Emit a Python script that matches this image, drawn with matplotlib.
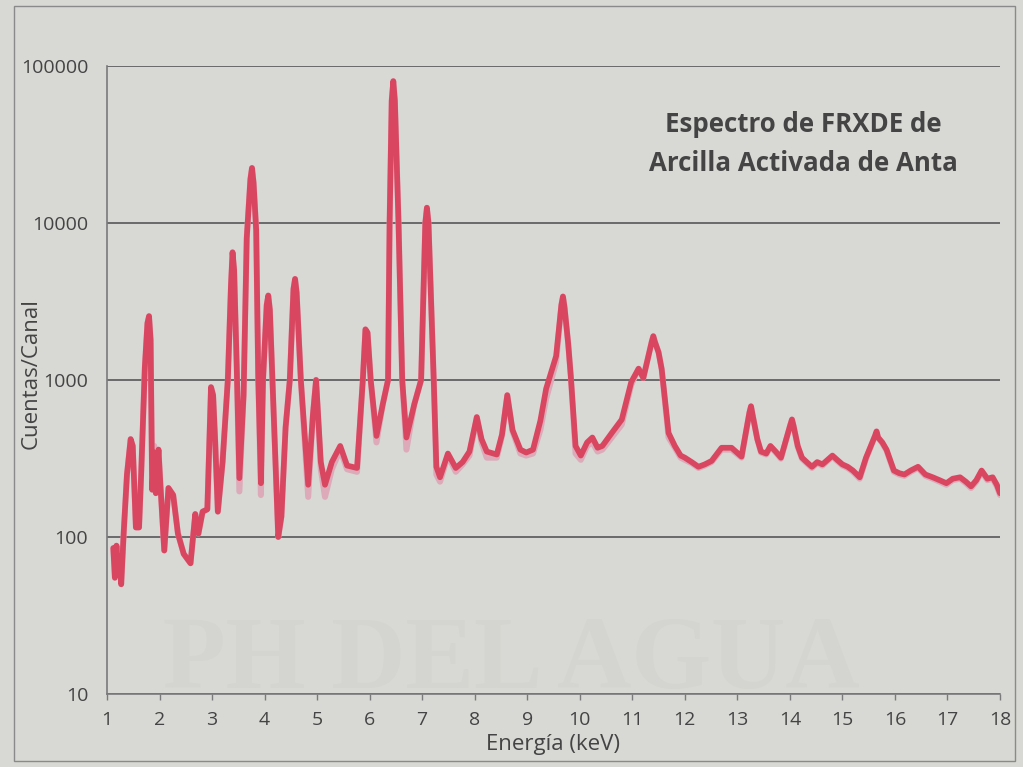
import matplotlib
matplotlib.use("Agg")
import matplotlib.pyplot as plt
from matplotlib.patches import Rectangle

# espectro FRXDE - arcilla activada de Anta
energia = [1.12, 1.15, 1.18, 1.21, 1.24, 1.27, 1.32, 1.38, 1.45, 1.49,
           1.55, 1.61, 1.65, 1.72, 1.77, 1.80, 1.83, 1.86, 1.90, 1.93, 1.98,
           2.02, 2.09, 2.17, 2.26, 2.35, 2.46, 2.59, 2.68, 2.74, 2.82,
           2.91, 2.98, 3.02, 3.06, 3.11, 3.20, 3.30, 3.36, 3.39, 3.42, 3.47, 3.52,
           3.60, 3.66, 3.73, 3.76, 3.79, 3.84, 3.88, 3.93, 3.97, 4.04, 4.07, 4.10, 4.15, 4.26,
           4.32, 4.40, 4.48, 4.55, 4.58, 4.61, 4.69, 4.83, 4.92, 4.98, 5.07, 5.15,
           5.28, 5.44, 5.57, 5.76, 5.87, 5.92, 5.96, 6.02, 6.13, 6.25, 6.35,
           6.38, 6.42, 6.45, 6.48, 6.55, 6.62, 6.70, 6.85, 6.98, 7.06, 7.09, 7.12, 7.22,
           7.27, 7.34, 7.49, 7.64, 7.77, 7.90, 8.04, 8.13, 8.23, 8.42,
           8.52, 8.62, 8.72, 8.87, 8.98, 9.11, 9.25, 9.36, 9.55, 9.65, 9.68, 9.71,
           9.78, 9.83, 9.92, 10.02, 10.14, 10.24, 10.34, 10.43, 10.61, 10.80, 10.98, 11.12,
           11.21, 11.37, 11.40, 11.43, 11.50, 11.56, 11.69, 11.81, 11.92, 12.00, 12.13, 12.26, 12.38, 12.51, 12.70,
           12.89, 13.08, 13.23, 13.26, 13.29, 13.38, 13.45, 13.55, 13.63, 13.73, 13.83, 14.01, 14.04, 14.07, 14.15, 14.23,
           14.32, 14.42, 14.52, 14.62, 14.81, 14.90, 15.00, 15.10, 15.20, 15.33, 15.45, 15.62, 15.65, 15.68, 15.76, 15.84,
           15.98, 16.08, 16.18, 16.30, 16.44, 16.58, 16.72, 16.85, 16.98, 17.10, 17.24, 17.35, 17.45, 17.55, 17.65, 17.76,
           17.86, 17.94, 18.00]

cuentas = [85, 55, 88, 60, 75, 50, 110, 250, 420, 380,
           115, 115, 250, 1200, 2300, 2550, 1800, 200, 345, 190, 360,
           205, 82, 205, 185, 105, 78, 68, 140, 105, 145,
           150, 900, 800, 400, 145, 300, 1000, 4000, 6500, 5000, 1200, 237,
           800, 8000, 19000, 22400, 18000, 9000, 1000, 220, 1000, 3000, 3450, 2800, 1000, 100,
           135, 500, 1000, 3800, 4400, 3600, 1000, 215, 600, 1000, 300, 215,
           300, 380, 285, 275, 1000, 2100, 2000, 1000, 440, 700, 1000,
           10000, 60000, 80000, 60000, 10000, 1000, 430, 700, 1000, 10000, 12500, 10000, 1000,
           280, 240, 340, 275, 300, 350, 580, 420, 350, 335,
           450, 800, 480, 360, 345, 360, 550, 880, 1420, 3000, 3400, 2900,
           1700, 1050, 380, 330, 400, 430, 370, 380, 460, 560, 970, 1180,
           1030, 1750, 1900, 1750, 1500, 1170, 460, 380, 330, 320, 300, 280, 290, 305, 370,
           370, 325, 620, 680, 600, 420, 350, 340, 380, 350, 320, 520, 560, 510, 380, 320,
           300, 280, 300, 290, 330, 310, 290, 280, 265, 240, 320, 440, 470, 430, 400, 360,
           265, 255, 250, 265, 280, 250, 240, 230, 220, 235, 240, 225, 210, 230, 265, 235,
           240, 215, 190]

# segunda medida (casi superpuesta, algo mas baja en los valles)
cuentas_b = [85, 55, 88, 60, 75, 50, 110, 250, 420, 380,
             115, 115, 250, 1200, 2300, 2550, 1800, 200, 380, 190, 360,
             205, 82, 205, 185, 105, 78, 68, 140, 105, 145,
             150, 900, 800, 400, 145, 300, 1000, 4000, 6500, 5000, 1200, 195,
             800, 8000, 19000, 22400, 18000, 9000, 1000, 185, 1000, 3000, 3450, 2800, 1000, 100,
             135, 500, 1000, 3800, 4400, 3600, 1000, 180, 600, 1000, 270, 180,
             270, 360, 270, 260, 1000, 2100, 2000, 1000, 400, 700, 1000,
             10000, 60000, 80000, 60000, 10000, 1000, 360, 700, 1000, 10000, 12500, 10000, 1000,
             250, 225, 330, 260, 290, 330, 580, 400, 320, 320,
             440, 800, 470, 340, 330, 340, 480, 760, 1300, 3000, 3400, 2900,
             1700, 1050, 340, 310, 380, 400, 350, 360, 430, 520, 930, 1180,
             1030, 1750, 1900, 1750, 1500, 1170, 430, 370, 320, 310, 295, 275, 285, 300, 360,
             360, 320, 620, 680, 600, 420, 345, 335, 375, 345, 315, 520, 560, 510, 375, 315,
             295, 275, 295, 285, 325, 305, 285, 275, 260, 235, 315, 440, 470, 430, 395, 355,
             260, 250, 245, 260, 275, 245, 235, 225, 215, 230, 235, 220, 205, 225, 260, 230,
             235, 210, 185]

yticks = [10, 100, 1000, 10000, 100000]
xticks = list(range(1, 19))

fondo = '#d8d8d4'
gris = '#444444'

plt.rcParams['font.family'] = ['Open Sans', 'DejaVu Sans']

fig = plt.figure(figsize=(10.23, 7.67), dpi=100, facecolor=fondo)
ax = fig.add_axes([0.1046, 0.0952, 0.8729, 0.8188], facecolor=fondo)

# borde exterior del grafico
fig.patches.append(Rectangle((0.014, 0.008), 0.978, 0.984, transform=fig.transFigure,
                             fill=False, edgecolor='#8a8a8a', linewidth=1.0))

# marca de agua
fig.text(0.50, 0.135, 'PH DEL AGUA', ha='center', va='center', fontsize=74,
         family='Liberation Serif', fontweight='bold', color='#cfcfca', alpha=0.4,
         zorder=0)

ax.plot(energia, cuentas_b, color='#dcaab9', linewidth=4.3, solid_joinstyle='round',
        solid_capstyle='round', zorder=2)
ax.plot(energia, cuentas, color='#d9465f', linewidth=4.1, solid_joinstyle='round',
        solid_capstyle='round', zorder=3)

ax.set_yscale('log')
ax.set_ylim(10, 100000)
ax.set_xlim(1, 18)
ax.set_yticks(yticks)
ax.set_yticklabels([str(v) for v in yticks])
ax.minorticks_off()
ax.set_xticks(xticks)
ax.set_xticklabels([str(v) for v in xticks])

ax.grid(axis='y', color='#6a6a6a', linewidth=1.4)
ax.set_axisbelow(True)
for lado in ['top', 'right']:
    ax.spines[lado].set_visible(False)
ax.spines['left'].set_color('#7a7a7a')
ax.spines['bottom'].set_color('#7a7a7a')
ax.spines['left'].set_linewidth(1.2)
ax.spines['bottom'].set_linewidth(1.2)

ax.tick_params(axis='y', length=0, pad=13.5, labelsize=14, labelcolor=gris)
ax.tick_params(axis='x', direction='out', length=4, width=1, color='#7a7a7a',
               pad=8, labelsize=14, labelcolor=gris)

ax.set_xlabel('Energía (keV)', fontsize=16, color=gris, labelpad=4)
ax.set_ylabel('Cuentas/Canal', fontsize=16, color=gris)
ax.yaxis.set_label_coords(-0.073, 0.51)

ax.text(0.78, 0.876, 'Espectro de FRXDE de\nArcilla Activada de Anta', transform=ax.transAxes,
        ha='center', va='center', fontsize=18.6, fontweight='bold', color=gris,
        linespacing=1.6)

fig.savefig('out.png', dpi=100, facecolor=fondo)
